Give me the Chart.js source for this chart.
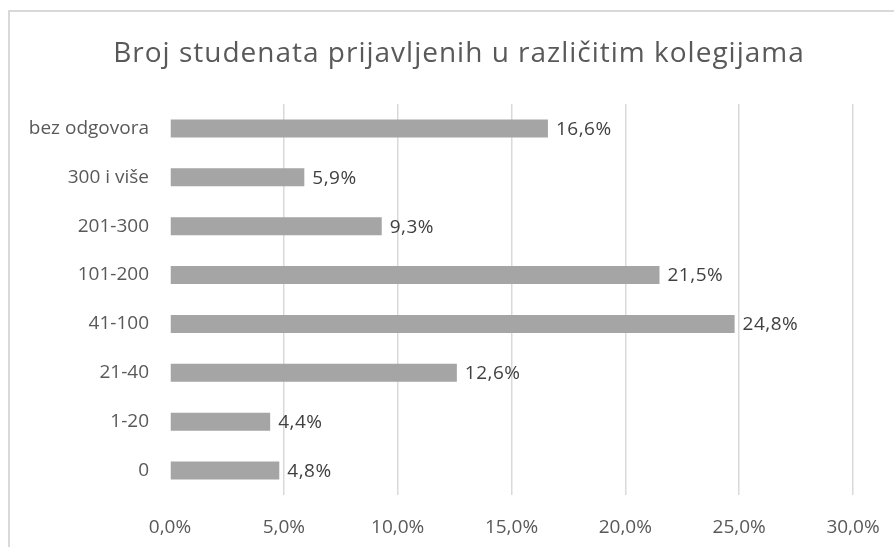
<!DOCTYPE html>
<html>
<head>
<meta charset="utf-8">
<script src="https://cdn.jsdelivr.net/npm/chart.js@4/dist/chart.umd.min.js"></script>
<style>
  html, body { margin: 0; padding: 0; background: #fff; overflow: hidden; }
  #wrap { position: relative; width: 894px; height: 547px; }
  #frame { position: absolute; left: 8px; top: 10px; width: 900px; height: 560px; border: 2px solid #d9d9d9; box-sizing: border-box; }
  canvas { position: absolute; left: 0; top: 0; }
</style>
</head>
<body>
<div id="wrap">
  <div id="frame"></div>
  <canvas id="chart" width="894" height="547"></canvas>
</div>
<script>
// Kategorije (odozgo prema dolje) i postoci
const naslov = 'Broj studenata prijavljenih u različitim kolegijama';
const kategorije = ['bez odgovora', '300 i više', '201-300', '101-200', '41-100', '21-40', '1-20', '0'];
const postoci = [16.6, 5.9, 9.3, 21.5, 24.8, 12.6, 4.4, 4.8];
const osX = [0, 5, 10, 15, 20, 25, 30];

const fmt = v => v.toFixed(1).replace('.', ',') + '%';
const fontFam = '"Open Sans", "Noto Sans", sans-serif';

// naslov centriran na okvir grafikona (okvir ide preko ruba slike)
const naslovPlugin = {
    id: 'naslov',
    beforeDraw(chart) {
        const ctx = chart.ctx;
        ctx.save();
        ctx.font = '28px ' + fontFam;
        ctx.letterSpacing = '1px';
        ctx.fillStyle = '#595959';
        ctx.textAlign = 'center';
        ctx.textBaseline = 'alphabetic';
        ctx.fillText(naslov, 459, 62);
        ctx.restore();
    }
};

// oznake vrijednosti desno od stupca
const oznake = {
    id: 'oznake',
    afterDatasetsDraw(chart) {
        const ctx = chart.ctx;
        const meta = chart.getDatasetMeta(0);
        ctx.save();
        ctx.font = '19px ' + fontFam;
        ctx.letterSpacing = '0.5px';
        ctx.fillStyle = '#404040';
        ctx.textAlign = 'left';
        ctx.textBaseline = 'middle';
        meta.data.forEach((bar, i) => {
            ctx.fillText(fmt(postoci[i]), bar.x + 8, bar.y + 1);
        });
        ctx.restore();
    }
};

new Chart(document.getElementById('chart'), {
    type: 'bar',
    data: {
        labels: kategorije,
        datasets: [{
            data: postoci,
            backgroundColor: '#a5a5a5',
            barPercentage: 0.37,
            categoryPercentage: 1
        }]
    },
    plugins: [naslovPlugin, oznake],
    options: {
        indexAxis: 'y',
        responsive: false,
        animation: false,
        layout: { padding: { left: 0, right: 41, top: 104, bottom: 0 } },
        plugins: {
            legend: { display: false },
            tooltip: { enabled: false },
            title: { display: false }
        },
        scales: {
            x: {
                min: 0,
                max: 30,
                afterBuildTicks: s => { s.ticks = osX.map(v => ({ value: v })); },
                afterFit: s => { s.height = 52; s.paddingLeft = 0; s.paddingRight = 0; },
                border: { display: false },
                grid: {
                    drawTicks: false,
                    color: c => c.tick && c.tick.value === 0 ? 'rgba(0,0,0,0)' : '#d9d9d9',
                    lineWidth: 1.5
                },
                ticks: {
                    padding: 21,
                    color: '#595959',
                    font: { family: fontFam, size: 19 },
                    callback: v => fmt(v)
                }
            },
            y: {
                afterFit: s => { s.width = 170; s.paddingTop = 0; s.paddingBottom = 0; },
                border: { display: false },
                grid: { display: false, drawTicks: false },
                ticks: {
                    padding: 21,
                    color: '#595959',
                    font: { family: fontFam, size: 19 }
                }
            }
        }
    }
});
</script>
</body>
</html>
